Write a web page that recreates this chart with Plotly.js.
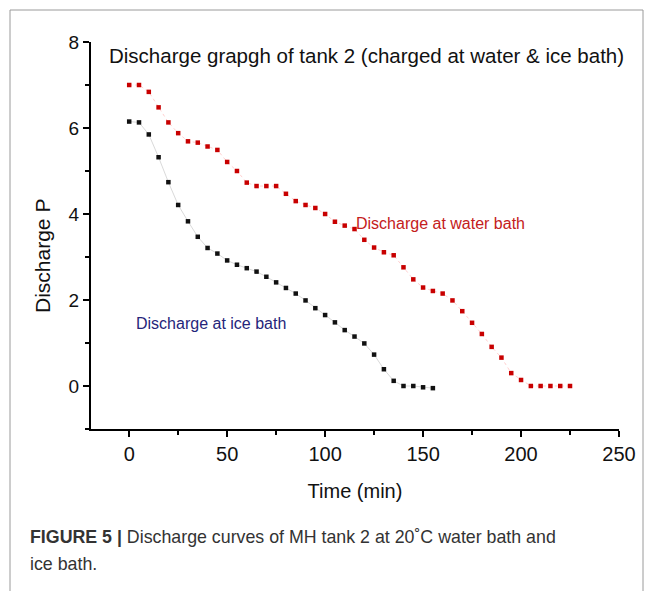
<!DOCTYPE html>
<html>
<head>
<meta charset="utf-8">
<script src="https://cdn.plot.ly/plotly-3.0.1.min.js"></script>
<style>
  html, body { margin: 0; padding: 0; background: #fff; }
  #chart { width: 654px; height: 591px; }
</style>
</head>
<body>
<div id="chart"></div>
<script>
// Discharge at water bath (red)
const waterTime = [0,5,10,15,20,25,30,35,40,45,50,55,60,65,70,75,80,85,90,95,100,105,110,115,120,125,130,135,140,145,150,155,160,165,170,175,180,185,190,195,200,205,210,215,220,225];
const waterP = [7.0,7.0,6.84,6.48,6.13,5.88,5.69,5.66,5.57,5.49,5.21,5.0,4.73,4.65,4.65,4.65,4.47,4.3,4.21,4.14,4.0,3.82,3.73,3.65,3.4,3.22,3.11,3.04,2.76,2.48,2.29,2.21,2.15,1.99,1.74,1.47,1.21,0.91,0.66,0.3,0.14,0,0,0,0,0];

// Discharge at ice bath (black)
const iceTime = [0,5,10,15,20,25,30,35,40,45,50,55,60,65,70,75,80,85,90,95,100,105,110,115,120,125,130,135,140,145,150,155];
const iceP = [6.15,6.13,5.85,5.32,4.74,4.21,3.83,3.47,3.21,3.08,2.92,2.82,2.74,2.66,2.54,2.41,2.28,2.15,1.99,1.81,1.65,1.48,1.3,1.15,0.99,0.73,0.39,0.12,0,0,-0.03,-0.05];

const xTickVals = [0,50,100,150,200,250];
const yTickVals = [0,2,4,6,8];

const chartTitle = "Discharge grapgh of tank 2 (charged at water &amp; ice bath)";
const waterLabel = "Discharge at water bath";
const iceLabel = "Discharge at ice bath";
const xTitle = "Time (min)";
const yTitle = "Discharge P";
const captionLine1 = "<b>FIGURE 5 |</b> Discharge curves of MH tank 2 at 20˚C water bath and";
const captionLine2 = "ice bath.";

const font = "Liberation Sans, Arial, sans-serif";

const traces = [
  {
    x: waterTime, y: waterP, type: 'scatter', mode: 'lines+markers',
    line: {color: 'rgba(255,150,150,0.45)', width: 1, dash: 'dot'},
    marker: {symbol: 'square', size: 4.5, color: '#c80000'},
    hoverinfo: 'skip'
  },
  {
    x: iceTime, y: iceP, type: 'scatter', mode: 'lines+markers',
    line: {color: 'rgba(170,170,170,0.45)', width: 1},
    marker: {symbol: 'square', size: 4.5, color: '#111'},
    hoverinfo: 'skip'
  }
];

const frameColor = '#9a9a9a';
// plot area: x 91..619 px, y 42..429 px
const L = 91, R = 619, T = 42, B = 429;
const px = v => (v - L) / (R - L);
const py = v => (B - v) / (B - T);

const layout = {
  width: 654, height: 591,
  margin: {l: L, r: 654 - R, t: T, b: 591 - B},
  paper_bgcolor: '#fff', plot_bgcolor: '#fff',
  showlegend: false,
  font: {family: font, size: 18, color: '#111'},
  xaxis: {
    range: [-19.5, 250], showgrid: false, zeroline: false,
    showline: true, linecolor: '#000', linewidth: 2,
    ticks: 'outside', ticklen: 6, tickwidth: 2, tickcolor: '#000',
    tickvals: xTickVals,
    minor: {ticks: 'outside', ticklen: 4, tickwidth: 1.5, tickcolor: '#000', dtick: 25, tick0: 0, showgrid: false},
    tickfont: {size: 20, color: '#111'},
    title: {text: xTitle, font: {size: 20, color: '#111'}, standoff: 20}
  },
  yaxis: {
    range: [-1, 8], showgrid: false, zeroline: false,
    showline: true, linecolor: '#000', linewidth: 2,
    ticks: 'outside', ticklen: 6, tickwidth: 2, tickcolor: '#000',
    tickvals: yTickVals,
    minor: {ticks: 'outside', ticklen: 4, tickwidth: 1.5, tickcolor: '#000', dtick: 1, tick0: 1, showgrid: false},
    tickfont: {size: 19, color: '#111'}
  },
  annotations: [
    {text: chartTitle, xref: 'paper', yref: 'paper', x: px(366.5), y: py(55), xanchor: 'center', yanchor: 'middle', showarrow: false, font: {size: 20.5, color: '#111'}},
    {text: yTitle, xref: 'paper', yref: 'paper', x: px(43), y: py(256), xanchor: 'center', yanchor: 'middle', textangle: -90, showarrow: false, font: {size: 21, color: '#111'}},
    {text: waterLabel, xref: 'x', yref: 'y', x: 158.7, y: 3.77, xanchor: 'center', yanchor: 'middle', showarrow: false, font: {size: 16, color: '#c42020'}},
    {text: iceLabel, xref: 'x', yref: 'y', x: 41.8, y: 1.46, xanchor: 'center', yanchor: 'middle', showarrow: false, font: {size: 16, color: '#25257a'}},
    {text: captionLine1, xref: 'paper', yref: 'paper', x: px(28), y: py(537), xanchor: 'left', yanchor: 'middle', showarrow: false, font: {size: 17.8, color: '#333'}},
    {text: captionLine2, xref: 'paper', yref: 'paper', x: px(28), y: py(564), xanchor: 'left', yanchor: 'middle', showarrow: false, font: {size: 17.8, color: '#333'}}
  ],
  shapes: [
    {type: 'line', xref: 'paper', yref: 'paper', x0: px(10), x1: px(10), y0: py(10), y1: py(600), line: {color: frameColor, width: 1}},
    {type: 'line', xref: 'paper', yref: 'paper', x0: px(10), x1: px(643), y0: py(10), y1: py(10), line: {color: frameColor, width: 1}},
    {type: 'line', xref: 'paper', yref: 'paper', x0: px(643), x1: px(643), y0: py(10), y1: py(600), line: {color: frameColor, width: 1}}
  ]
};

Plotly.newPlot('chart', traces, layout, {displayModeBar: false, staticPlot: true});
</script>
</body>
</html>
